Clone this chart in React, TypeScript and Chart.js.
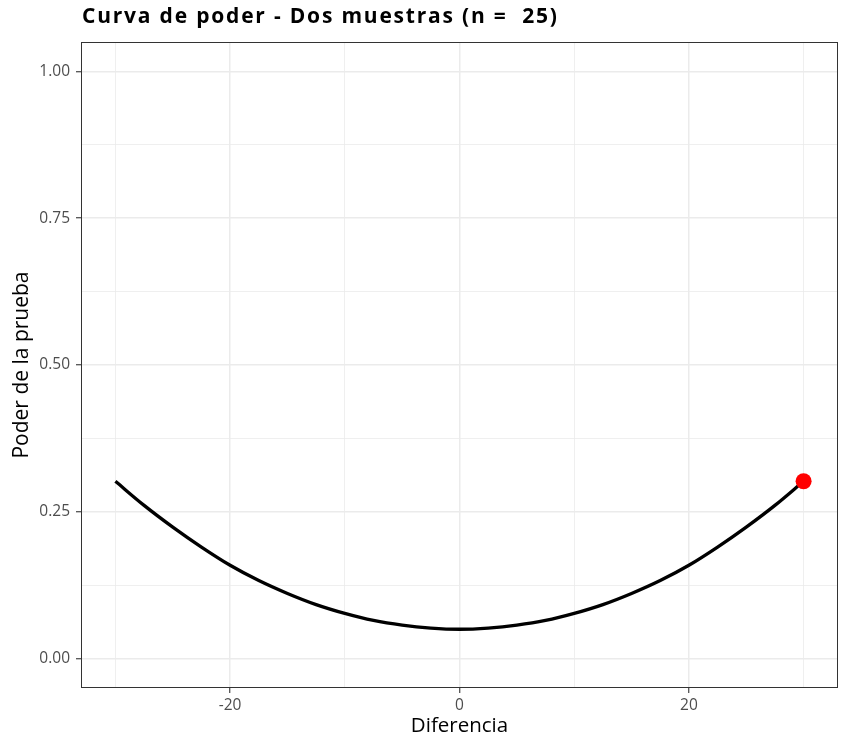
import React, { useEffect, useRef } from "react";
import { Chart, registerables } from "chart.js";

Chart.register(...registerables);

// Data
const diferencias = [-30, -27.5, -25, -22.5, -20, -17.5, -15, -12.5, -10, -7.5, -5, -2.5, 0, 2.5, 5, 7.5, 10, 12.5, 15, 17.5, 20, 22.5, 25, 27.5, 30];
const poder = [0.302, 0.261, 0.224, 0.19, 0.159, 0.133, 0.111, 0.092, 0.077, 0.065, 0.057, 0.052, 0.05, 0.052, 0.057, 0.065, 0.077, 0.092, 0.111, 0.133, 0.159, 0.19, 0.224, 0.261, 0.302];
const puntoX = [30];
const puntoY = [0.302];

const xTicks = [-30, -20, -10, 0, 10, 20, 30];
const xMajor = [-20, 0, 20];
const yTicks = [0, 0.125, 0.25, 0.375, 0.5, 0.625, 0.75, 0.875, 1];
const yMajor = [0, 0.25, 0.5, 0.75, 1];

const titulo = "Curva de poder - Dos muestras (n =  25)";
const xTitulo = "Diferencia";
const yTitulo = "Poder de la prueba";

const FONT = "'Open Sans', 'Noto Sans', sans-serif";

const isMajor = (v: number, list: number[]) => list.some((m) => Math.abs(m - v) < 1e-9);

const panelPlugin = {
  id: "panelBorderAndTitle",
  afterDraw(chart: any) {
    const { ctx, chartArea } = chart;
    ctx.save();
    ctx.strokeStyle = "#333333";
    ctx.lineWidth = 1;
    ctx.strokeRect(
      Math.round(chartArea.left) + 0.5,
      Math.round(chartArea.top) + 0.5,
      Math.round(chartArea.right - chartArea.left) - 1,
      Math.round(chartArea.bottom - chartArea.top) - 1
    );
    // plot title, left aligned with the panel
    ctx.fillStyle = "#000000";
    ctx.font = `bold 21px ${FONT}`;
    (ctx as any).letterSpacing = "1.8px";
    ctx.textAlign = "left";
    ctx.textBaseline = "middle";
    ctx.fillText(titulo, chartArea.left + 1, 17.5);
    ctx.restore();
  },
};

export default function App() {
  const ref = useRef<HTMLCanvasElement | null>(null);

  useEffect(() => {
    document.body.style.margin = "0";
    if (!ref.current) return;
    const chart = new Chart(ref.current, {
      type: "line",
      data: {
        datasets: [
          {
            data: diferencias.map((x, i) => ({ x, y: poder[i] })),
            borderColor: "#000000",
            borderWidth: 3.3,
            pointRadius: 0,
            cubicInterpolationMode: "monotone",
            fill: false,
            order: 2,
          },
          {
            data: puntoX.map((x, i) => ({ x, y: puntoY[i] })),
            showLine: false,
            pointRadius: 8,
            pointBackgroundColor: "#FF0000",
            pointBorderColor: "#FF0000",
            pointBorderWidth: 0,
            order: 1,
          },
        ],
      },
      options: {
        responsive: false,
        animation: false,
        devicePixelRatio: 1,
        layout: { padding: { left: 0, right: 26, top: 42, bottom: 0 } },
        plugins: {
          legend: { display: false },
          tooltip: { enabled: false },
          title: { display: false },
        },
        scales: {
          x: {
            type: "linear",
            min: -33,
            max: 33,
            afterBuildTicks: (scale: any) => {
              scale.ticks = xTicks.map((v) => ({ value: v }));
            },
            afterFit: (scale: any) => {
              scale.height = 66;
            },
            ticks: {
              autoSkip: false,
              maxRotation: 0,
              color: "#4D4D4D",
              font: { family: FONT, size: 15.5 },
              padding: 3,
              callback: (v: any) => (isMajor(Number(v), xMajor) ? String(v) : ""),
            },
            grid: {
              color: "#EBEBEB",
              lineWidth: (c: any) => (c.tick && isMajor(c.tick.value, xMajor) ? 1.5 : 0.8),
              tickColor: (c: any) => (c.tick && isMajor(c.tick.value, xMajor) ? "#333333" : "rgba(0,0,0,0)"),
              tickLength: 5,
              tickWidth: 1.1,
              drawTicks: true,
            },
            border: { display: false },
            title: {
              display: true,
              text: xTitulo,
              color: "#000000",
              font: { family: FONT, size: 20.5 },
              padding: { top: 0, bottom: 16 },
            },
          },
          y: {
            type: "linear",
            min: -0.05,
            max: 1.05,
            afterBuildTicks: (scale: any) => {
              scale.ticks = yTicks.map((v) => ({ value: v }));
            },
            afterFit: (scale: any) => {
              scale.width = 81;
            },
            ticks: {
              autoSkip: false,
              color: "#4D4D4D",
              font: { family: FONT, size: 15.5 },
              padding: 6,
              callback: (v: any) => (isMajor(Number(v), yMajor) ? Number(v).toFixed(2) : ""),
            },
            grid: {
              color: "#EBEBEB",
              lineWidth: (c: any) => (c.tick && isMajor(c.tick.value, yMajor) ? 1.5 : 0.8),
              tickColor: (c: any) => (c.tick && isMajor(c.tick.value, yMajor) ? "#333333" : "rgba(0,0,0,0)"),
              tickLength: 5,
              tickWidth: 1.1,
              drawTicks: true,
            },
            border: { display: false },
            title: {
              display: true,
              text: yTitulo,
              color: "#000000",
              font: { family: FONT, size: 21 },
              padding: { top: 9, bottom: 0 },
            },
          },
        },
      },
      plugins: [panelPlugin],
    } as any);
    return () => chart.destroy();
  }, []);

  return (
    <div style={{ position: "absolute", left: 0, top: 0, width: 864, height: 754 }}>
      <canvas ref={ref} width={864} height={754} style={{ width: 864, height: 754 }} />
    </div>
  );
}
